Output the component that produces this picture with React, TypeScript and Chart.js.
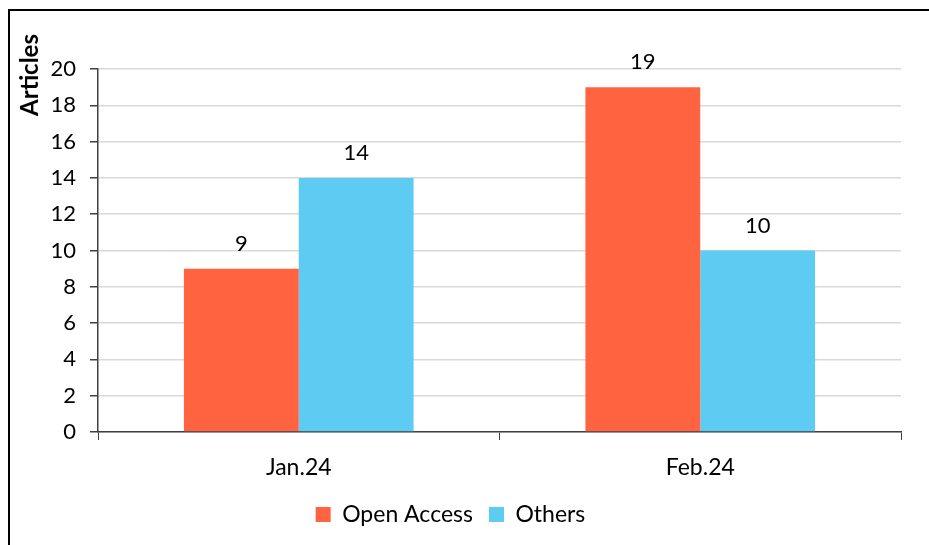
import React, { useEffect, useRef } from "react";
import { Chart, registerables } from "chart.js";

Chart.register(...registerables);

const categories = ["Jan.24", "Feb.24"];
const openAccess = [9, 19];
const others = [14, 10];
const seriesNames = ["Open Access", "Others"];
const yTicks = [0, 2, 4, 6, 8, 10, 12, 14, 16, 18, 20];
const yTitle = "Articles";

const FONT = "Lato, 'Liberation Sans', sans-serif";
const FS = 22;
const FS_TEXT = 23;

const framePlugin = {
  id: "frame",
  beforeDraw(chart: any) {
    const ctx = chart.ctx;
    ctx.save();
    ctx.fillStyle = "#ffffff";
    ctx.fillRect(0, 0, chart.width, chart.height);
    ctx.strokeStyle = "#000000";
    ctx.lineWidth = 2;
    ctx.beginPath();
    ctx.moveTo(9, chart.height + 2);
    ctx.lineTo(9, 10);
    ctx.lineTo(chart.width + 2, 10);
    ctx.stroke();
    ctx.restore();
  },
  afterDraw(chart: any) {
    const ctx = chart.ctx;
    ctx.save();
    ctx.translate(30, 75);
    ctx.rotate(-Math.PI / 2);
    ctx.font = `bold 24px ${FONT}`;
    ctx.fillStyle = "#000000";
    ctx.textAlign = "center";
    ctx.textBaseline = "middle";
    ctx.fillText(yTitle, 0, 0);
    ctx.restore();
  },
};

const labelPlugin = {
  id: "valueLabels",
  afterDatasetsDraw(chart: any) {
    const ctx = chart.ctx;
    ctx.save();
    ctx.font = `${FS}px ${FONT}`;
    ctx.fillStyle = "#000000";
    ctx.textAlign = "center";
    ctx.textBaseline = "bottom";
    chart.data.datasets.forEach((ds: any, i: number) => {
      const meta = chart.getDatasetMeta(i);
      meta.data.forEach((bar: any, j: number) => {
        ctx.fillText(String(ds.data[j]), bar.x, bar.y - 14);
      });
    });
    ctx.restore();
  },
};

export default function App() {
  const ref = useRef<HTMLCanvasElement>(null);
  useEffect(() => {
    if (!ref.current) return;
    const chart = new Chart(ref.current, {
      type: "bar",
      data: {
        labels: categories,
        datasets: [
          {
            label: seriesNames[0],
            data: openAccess,
            backgroundColor: "#FF6340",
            barPercentage: 1,
            categoryPercentage: 0.572,
          },
          {
            label: seriesNames[1],
            data: others,
            backgroundColor: "#5DCBF2",
            barPercentage: 1,
            categoryPercentage: 0.572,
          },
        ],
      },
      options: {
        responsive: false,
        animation: false,
        layout: { padding: { left: 0, right: 28, top: 69, bottom: 9 } },
        plugins: {
          legend: {
            position: "bottom",
            labels: {
              font: { family: FONT, size: FS_TEXT },
              color: "#000000",
              boxWidth: 15,
              boxHeight: 15,
              padding: 16,
            },
          },
          tooltip: { enabled: false },
        },
        scales: {
          x: {
            offset: true,
            grid: {
              offset: true,
              drawOnChartArea: false,
              drawTicks: true,
              tickLength: 8,
              tickColor: "#404040",
            },
            border: { color: "#404040", width: 1.5 },
            ticks: { font: { family: FONT, size: FS_TEXT }, color: "#000000", padding: 14 },
            afterFit(scale: any) {
              scale.height = 55;
            },
          },
          y: {
            min: 0,
            max: 20,
            afterBuildTicks(scale: any) {
              scale.ticks = yTicks.map((v) => ({ value: v }));
            },
            grid: {
              color: "#D9D9D9",
              lineWidth: 1.5,
              tickLength: 8,
              tickColor: "#404040",
            },
            border: { color: "#404040", width: 1.5 },
            ticks: { font: { family: FONT, size: FS }, color: "#000000", padding: 14 },
            afterFit(scale: any) {
              scale.width = 98;
            },
          },
        },
      },
      plugins: [framePlugin, labelPlugin],
    });
    return () => chart.destroy();
  }, []);
  return (
    <div style={{ position: "absolute", left: 0, top: 0, width: 929, height: 545 }}>
      <canvas ref={ref} width={929} height={545} style={{ width: 929, height: 545, display: "block" }} />
    </div>
  );
}
